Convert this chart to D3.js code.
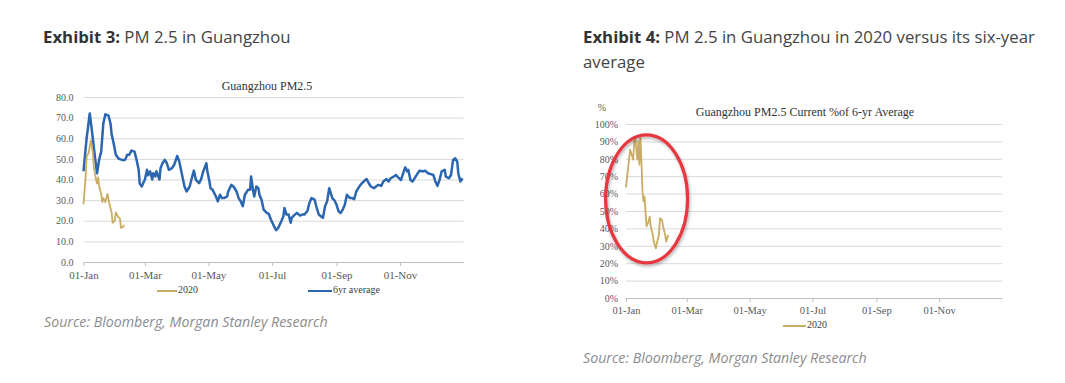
<!DOCTYPE html>
<html>
<head>
<meta charset="utf-8">
<script src="https://cdn.jsdelivr.net/npm/d3@7"></script>
<style>
  body { margin: 0; background: #fff; }
  svg { display: block; }
  .grid line { stroke: #d9d9d9; }
  .grid path { display: none; }
  .grid text, .xaxis text { fill: #595959; font-family: "Liberation Serif", serif; }
  .xaxis path, .xaxis line { stroke: #bfbfbf; }
</style>
</head>
<body>
<div id="chart"></div>
<script>
// Canvas
const WIDTH = 1065;
const HEIGHT = 383;

// Data: [day since 01-Jan, value]
const monthTicks = ["01-Jan", "01-Mar", "01-May", "01-Jul", "01-Sep", "01-Nov"];
const pmTicks = [0, 10, 20, 30, 40, 50, 60, 70, 80];
const pctTicks = [0, 10, 20, 30, 40, 50, 60, 70, 80, 90, 100];

const avg6yr = [[0,44],[3,60],[6,72],[8,64],[11,51],[13,43],[15,49.5],[17,53.5],[19,67],[21,71.6],[24,71],[26,67],[27,62],[29,57.5],[31,52],[34,50],[37,49.5],[40,49.5],[42,52],[44,52],[46,54],[49,53.5],[51,49.5],[53,44.7],[54,38],[56,36.6],[58,39],[59,40],[61,44.7],[62,42],[64,44],[66,40],[67,43],[69,41.5],[70,44],[73,40],[74,45.5],[76,48],[78,49.5],[80,48],[82,44.7],[85,45.5],[87,47],[90,51.4],[92,48.7],[95,41.5],[97,36.6],[99,34.2],[102,36.6],[104,40.6],[106,44.3],[108,39.8],[111,38.2],[113,40.2],[115,43.9],[118,47.9],[119,43.9],[121,39],[122,35.8],[124,35],[127,32],[129,29.4],[131,32.6],[133,31],[135,31],[138,31.8],[139,34.2],[142,37.4],[144,36.6],[147,34.2],[149,31],[151,29.4],[153,27],[155,32.6],[158,35],[160,35],[161,41.5],[163,34.2],[164,31.8],[166,36.6],[168,35.8],[169,32.6],[171,30.2],[173,25.4],[176,23.8],[178,23.3],[180,20.6],[183,17.3],[185,15.4],[187,16.5],[190,19.8],[192,22.2],[193,26.2],[195,23],[197,23],[199,19],[200,21.4],[202,22.5],[205,23.8],[208,22.5],[210,23],[212,23],[215,24.6],[217,28.6],[219,31],[222,30.2],[224,26.2],[226,23],[228,22.2],[230,21.4],[232,27],[234,29.4],[236,35.8],[239,31],[241,29.9],[243,27.8],[245,24.6],[247,23.8],[249,25.4],[251,27.8],[253,32.6],[256,31],[258,31],[260,30.5],[262,34.2],[264,35.8],[266,37.4],[269,39],[272,40.2],[274,38.2],[276,36.6],[279,35.8],[281,36.6],[283,37.4],[286,36.9],[288,39],[291,40.2],[293,39],[295,40.6],[298,41.4],[300,42.2],[303,40.6],[305,39.8],[307,43],[309,45.9],[311,43.9],[312,44.7],[314,39.8],[316,39],[319,41.4],[321,43],[323,44.3],[326,43.9],[328,44.3],[331,43],[333,42.7],[336,42.2],[338,39],[340,36.9],[342,39.8],[344,43.9],[347,44.7],[348,41.4],[351,40.6],[353,42.2],[355,49.5],[357,50.3],[359,48.7],[360,43],[362,39],[364,40.6]];

const pm2020 = [[0,28],[2,41],[3,51],[5,53],[6,56],[7,59],[9,53],[10,46],[12,40],[13,38],[14,41],[15,37],[17,33],[18,29],[19,31],[21,29],[22,31],[23,33],[25,28],[27,24],[28,19],[30,20],[31,24],[33,22],[35,21],[36,16.5],[38,17],[39,18]];

const pct2020 = [[0,63.5],[2,74.7],[4,85.2],[5,83.3],[7,79.5],[8,90],[9,92],[11,79.5],[12,90],[13,76.6],[14,92],[15,78.5],[16,61.2],[17,55.5],[18,58.3],[19,48.8],[20,41.1],[22,44],[23,46.8],[24,41.1],[26,36.3],[27,32.4],[29,28.6],[30,31.5],[32,36.3],[33,45.9],[35,44.9],[36,41.1],[38,36.3],[39,32.4],[41,36.3]];

const BLUE = "#2b66b0";
const GOLD = "#c9ad62";
const SERIF = "'Liberation Serif', 'Times New Roman', serif";
const SANS = "'Open Sans', sans-serif";

const yearStart = new Date(2019, 0, 1);
const yearEnd = new Date(2020, 0, 1);
const parseTick = d3.timeParse("%d-%b-%Y");
const tickDates = monthTicks.map(s => parseTick(s + "-2019"));
const toDate = d => d3.timeDay.offset(yearStart, d);

const svg = d3.select("#chart").append("svg")
  .attr("width", WIDTH)
  .attr("height", HEIGHT);

// Exhibit headings
function heading(x, y, bold, rest) {
  const t = svg.append("text")
    .attr("x", x).attr("y", y)
    .attr("font-family", SANS).attr("font-size", 16.8)
    .attr("fill", "#444");
  t.append("tspan").attr("font-weight", "bold").attr("fill", "#333").text(bold);
  t.append("tspan").text(rest);
  return t;
}
heading(43, 43, "Exhibit 3:", " PM 2.5 in Guangzhou");
heading(583, 43, "Exhibit 4:", " PM 2.5 in Guangzhou in 2020 versus its six-year");
svg.append("text").attr("x", 583).attr("y", 68)
  .attr("font-family", SANS).attr("font-size", 16.8).attr("fill", "#444")
  .text("average");

// Source lines
[[44, 327], [583, 363]].forEach(([x, y]) => {
  svg.append("text").attr("x", x).attr("y", y)
    .attr("font-family", SANS).attr("font-size", 14.2)
    .attr("font-style", "italic").attr("fill", "#8c8c8c")
    .text("Source: Bloomberg, Morgan Stanley Research");
});

// Panel builder
function panel(cfg) {
  const x = d3.scaleTime().domain([yearStart, yearEnd]).range([cfg.left, cfg.right]);
  const y = d3.scaleLinear().domain(cfg.yDomain).range([cfg.bottom, cfg.top]);
  const g = svg.append("g");

  g.append("g")
    .attr("class", "grid")
    .attr("transform", `translate(${cfg.left},0)`)
    .call(d3.axisLeft(y).tickValues(cfg.yTicks).tickFormat(cfg.yFormat)
      .tickSize(-(cfg.right - cfg.left)).tickPadding(cfg.yPad))
    .selectAll("text").attr("font-size", 10);

  g.append("g")
    .attr("class", "xaxis")
    .attr("transform", `translate(0,${cfg.bottom})`)
    .call(d3.axisBottom(x).tickValues(tickDates).tickFormat(d3.timeFormat("%d-%b"))
      .tickSize(4).tickSizeOuter(0).tickPadding(5))
    .selectAll("text").attr("font-size", cfg.xFont);

  g.append("text")
    .attr("x", cfg.titleX).attr("y", cfg.titleY)
    .attr("text-anchor", "middle").attr("dominant-baseline", "middle")
    .attr("font-family", SERIF).attr("font-size", 12).attr("fill", "#333")
    .text(cfg.title);

  const line = d3.line().x(d => x(toDate(d[0]))).y(d => y(d[1]));
  cfg.series.forEach(s => {
    g.append("path").datum(s.data)
      .attr("fill", "none").attr("stroke", s.color)
      .attr("stroke-width", s.width).attr("stroke-linejoin", "round")
      .attr("d", line);
  });

  // Legend
  cfg.legend.forEach(l => {
    g.append("line")
      .attr("x1", l.x).attr("x2", l.x + l.len)
      .attr("y1", cfg.legendY).attr("y2", cfg.legendY)
      .attr("stroke", l.color).attr("stroke-width", 2);
    g.append("text")
      .attr("x", l.x + l.len + 1).attr("y", cfg.legendY)
      .attr("dominant-baseline", "middle")
      .attr("font-family", SERIF).attr("font-size", 10).attr("fill", "#404040")
      .text(l.label);
  });
  return { x, y, g };
}

panel({
  left: 83.5, right: 463.5, top: 97, bottom: 262,
  yDomain: [0, 80], yTicks: pmTicks, yFormat: d3.format(".1f"), yPad: 10,
  xFont: 11,
  title: "Guangzhou PM2.5", titleX: 267, titleY: 87,
  series: [
    { data: avg6yr, color: BLUE, width: 2.5 },
    { data: pm2020, color: GOLD, width: 1.8 }
  ],
  legendY: 291,
  legend: [
    { x: 157, len: 20, color: GOLD, label: "2020" },
    { x: 308, len: 24, color: BLUE, label: "6yr average" }
  ]
});

const right = panel({
  left: 626, right: 1002, top: 124, bottom: 298,
  yDomain: [0, 100], yTicks: pctTicks, yFormat: d => d + "%", yPad: 8,
  xFont: 10.5,
  title: "Guangzhou PM2.5 Current %of 6-yr Average", titleX: 805, titleY: 113,
  series: [
    { data: pct2020, color: GOLD, width: 1.8 }
  ],
  legendY: 326,
  legend: [
    { x: 783, len: 23, color: GOLD, label: "2020" }
  ]
});

svg.append("text")
  .attr("x", 602).attr("y", 109)
  .attr("text-anchor", "middle").attr("dominant-baseline", "middle")
  .attr("font-family", SERIF).attr("font-size", 10).attr("fill", "#595959")
  .text("%");

// Red highlight ellipse around the 2020 drop
const defs = svg.append("defs");
defs.append("filter").attr("id", "shadow")
  .append("feDropShadow")
  .attr("dx", 1).attr("dy", 2).attr("stdDeviation", 1.5)
  .attr("flood-color", "#000").attr("flood-opacity", 0.3);

right.g.append("ellipse")
  .attr("cx", right.x(toDate(20))).attr("cy", right.y(57))
  .attr("rx", 41).attr("ry", 64)
  .attr("fill", "none").attr("stroke", "#e5383f").attr("stroke-width", 3.2)
  .attr("filter", "url(#shadow)");
</script>
</body>
</html>
